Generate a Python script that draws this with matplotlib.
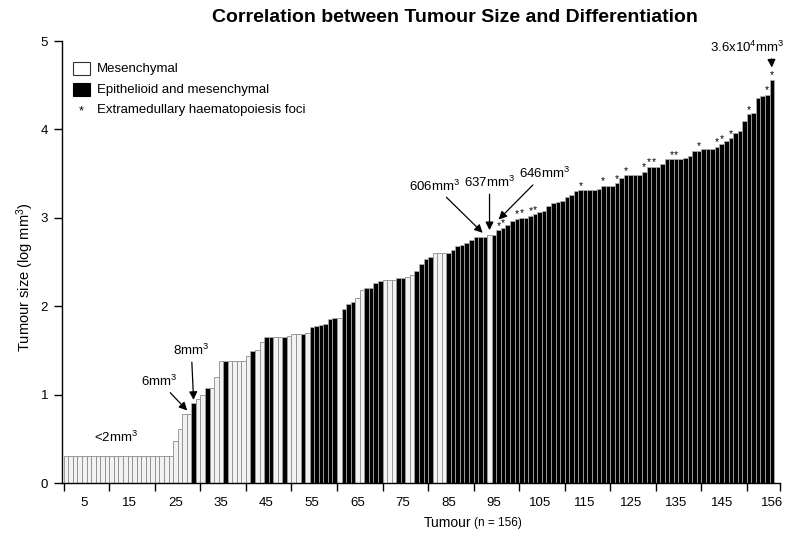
import matplotlib
matplotlib.use("Agg")
import matplotlib.pyplot as plt
from matplotlib.patches import Rectangle
import numpy as np

plt.rcParams['font.family'] = ['Liberation Sans', 'DejaVu Sans']
plt.rcParams['mathtext.fontset'] = 'custom'
plt.rcParams['mathtext.rm'] = 'Liberation Sans'
plt.rcParams['mathtext.it'] = 'Liberation Sans'

# log10 tumour size (mm^3), sorted ascending, one value per tumour
log_size = ([0.30] * 24 +
            [0.48, 0.61, 0.78, 0.78, 0.90, 0.95, 1.00, 1.08, 1.08, 1.20,
             1.38, 1.38, 1.38, 1.38, 1.38, 1.38, 1.44, 1.49, 1.51, 1.60,
             1.65, 1.65, 1.65, 1.65, 1.65, 1.66, 1.68, 1.68, 1.68, 1.70,
             1.77, 1.78, 1.79, 1.80, 1.86, 1.87, 1.87, 1.97, 2.02, 2.05,
             2.09, 2.18, 2.21, 2.21, 2.26, 2.28, 2.30, 2.30, 2.30, 2.32,
             2.32, 2.33, 2.35, 2.40, 2.48, 2.53, 2.56, 2.60, 2.60, 2.60,
             2.60, 2.64, 2.68, 2.69, 2.71, 2.75, 2.78, 2.78, 2.78, 2.80,
             2.81, 2.86, 2.89, 2.92, 2.96, 2.99, 3.00, 3.00, 3.02, 3.04,
             3.07, 3.08, 3.13, 3.17, 3.18, 3.19, 3.24, 3.26, 3.30, 3.31,
             3.31, 3.31, 3.31, 3.33, 3.36, 3.36, 3.36, 3.39, 3.45, 3.48,
             3.48, 3.48, 3.48, 3.52, 3.58, 3.58, 3.58, 3.61, 3.66, 3.66,
             3.66, 3.66, 3.68, 3.70, 3.76, 3.76, 3.78, 3.78, 3.78, 3.80,
             3.84, 3.87, 3.90, 3.96, 3.98, 4.10, 4.17, 4.18, 4.35, 4.38,
             4.39, 4.56])

# tumours (1-based) with epithelioid and mesenchymal differentiation (black)
epithelioid = [29, 32, 36, 42, 45, 46, 49, 53, 55, 56, 57, 58, 59, 60, 62, 63,
               64, 67, 68, 69, 70, 74, 75, 78, 79, 80, 81] + \
              [k for k in range(85, 157) if k != 94]

# tumours with extramedullary haematopoiesis foci
ehf = [96, 97, 100, 101, 103, 104, 114, 119, 122, 124, 128, 129, 130, 134,
       135, 140, 144, 145, 147, 151, 155, 156]

x_tick_labels = ['5', '15', '25', '35', '45', '55', '65', '75', '85', '95',
                 '105', '115', '125', '135', '145', '156']
y_ticks = [0, 1, 2, 3, 4, 5]

n = len(log_size)
idx = np.arange(1, n + 1)
vals = np.array(log_size)
is_black = np.isin(idx, epithelioid)

W, H = 800, 541
fig = plt.figure(figsize=(W / 100, H / 100), dpi=100)
ax = fig.add_axes([62 / W, 1 - 483 / H, (780 - 62) / W, (483 - 41) / H])

ax.bar(idx[~is_black], vals[~is_black], width=1.0, color='#f2f2f2',
       edgecolor='#8c8c8c', linewidth=0.6, zorder=2)
ax.bar(idx[is_black], vals[is_black], width=1.0, color='black',
       edgecolor='#b5b5b5', linewidth=0.5, zorder=2)

for k in ehf:
    ax.text(k, log_size[k - 1] - 0.005, '*', ha='center', va='bottom',
            fontsize=7.5, color='black', zorder=3)

ax.set_xlim(0.1, 157.8)
ax.set_ylim(0, 5)
for s in ['top', 'right']:
    ax.spines[s].set_visible(False)
ax.spines['left'].set_linewidth(1.0)
ax.spines['bottom'].set_linewidth(1.0)

ax.set_yticks(y_ticks)
ax.set_yticklabels([str(v) for v in y_ticks], fontsize=9.5)
ax.tick_params(axis='y', length=6, width=1.0, pad=4)

ax.set_xticks([0.5 + 10 * j for j in range(16)] + [157.8])
ax.set_xticklabels([])
ax.tick_params(axis='x', which='major', length=6, width=1.0)
label_pos = [5 + 10 * j for j in range(15)] + [156]
ax.set_xticks(label_pos, minor=True)
ax.set_xticklabels(x_tick_labels, minor=True, fontsize=9.5)
ax.tick_params(axis='x', which='minor', length=0, pad=10)

fig.text(25 / W, 1 - 277 / H, 'Tumour size (log mm$^3$)', rotation=90,
         ha='center', va='center', fontsize=10.5)

fig.text(471 / W, 1 - 523 / H, 'Tumour', ha='right', va='center', fontsize=10)
fig.text(474 / W, 1 - 523 / H, '(n = 156)', ha='left', va='center', fontsize=8.5)

fig.text(455 / W, 1 - 18 / H, 'Correlation between Tumour Size and Differentiation',
         ha='center', va='center', fontsize=14, fontweight='bold')

# legend
fig.patches.append(Rectangle((73 / W, 1 - 75 / H), 17 / W, 13 / H,
                             transform=fig.transFigure, facecolor='white',
                             edgecolor='#333333', linewidth=0.8))
fig.patches.append(Rectangle((73 / W, 1 - 96 / H), 17 / W, 13 / H,
                             transform=fig.transFigure, facecolor='black',
                             edgecolor='black', linewidth=0.8))
fig.text(81 / W, 1 - 111 / H, '*', ha='center', va='center', fontsize=9)
fig.text(97 / W, 1 - 69 / H, 'Mesenchymal', ha='left', va='center', fontsize=9.5)
fig.text(97 / W, 1 - 90 / H, 'Epithelioid and mesenchymal', ha='left',
         va='center', fontsize=9.5)
fig.text(97 / W, 1 - 110 / H, 'Extramedullary haematopoiesis foci', ha='left',
         va='center', fontsize=9.5)

# annotations
ap = dict(arrowstyle='-|>', color='black', lw=0.9, mutation_scale=12,
          shrinkA=1, shrinkB=0)
ax.text(12, 0.52, '<2mm$^3$', ha='center', va='center', fontsize=9.5)
ax.annotate('6mm$^3$', xy=(27.6, log_size[27] + 0.04), xytext=(21.5, 1.15),
            ha='center', va='center', fontsize=9.5, arrowprops=ap)
ax.annotate('8mm$^3$', xy=(29, log_size[28] + 0.04), xytext=(28.5, 1.5),
            ha='center', va='center', fontsize=9.5, arrowprops=ap)
ax.annotate('606mm$^3$', xy=(92.5, log_size[92] + 0.05), xytext=(82, 3.36),
            ha='center', va='center', fontsize=9.5, arrowprops=ap)
ax.annotate('637mm$^3$', xy=(94, log_size[93] + 0.06), xytext=(94, 3.40),
            ha='center', va='center', fontsize=9.5, arrowprops=ap)
ax.annotate('646mm$^3$', xy=(96, log_size[95] + 0.12), xytext=(106, 3.50),
            ha='center', va='center', fontsize=9.5, arrowprops=ap)
ap2 = dict(ap, relpos=(0.83, 0.0))
ax.annotate('3.6x10$^4$mm$^3$', xy=(156, log_size[155] + 0.14),
            xytext=(150.5, 4.93), ha='center', va='center', fontsize=9.5,
            arrowprops=ap2)

fig.savefig('out.png', dpi=100)
